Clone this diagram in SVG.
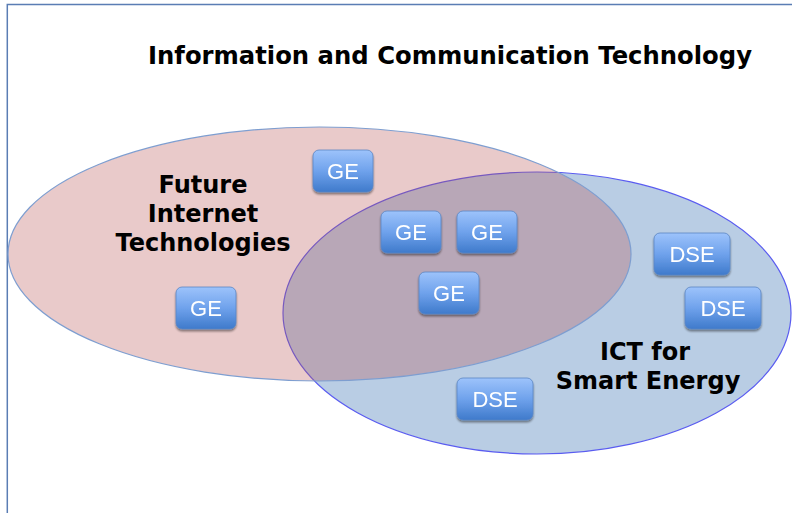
<svg xmlns="http://www.w3.org/2000/svg" width="792" height="513" viewBox="0 0 792 513">
  <defs>
    <linearGradient id="btnFill" x1="0" y1="0" x2="0" y2="1">
      <stop offset="0" stop-color="#9DC3FB"/>
      <stop offset="0.5" stop-color="#6FA2EC"/>
      <stop offset="1" stop-color="#3F7ACB"/>
    </linearGradient>
    <filter id="btnShadow" x="-10%" y="-10%" width="120%" height="130%">
      <feGaussianBlur in="SourceAlpha" stdDeviation="1"/>
      <feOffset dy="1.5"/>
      <feComponentTransfer><feFuncA type="linear" slope="0.45"/></feComponentTransfer>
      <feMerge><feMergeNode/><feMergeNode in="SourceGraphic"/></feMerge>
    </filter>
  </defs>
  <style>
    .frame { fill: none; stroke: #5A7DB4; stroke-width: 1.5; }
    .title { font-family: "DejaVu Sans", "Liberation Sans", sans-serif; font-weight: bold; font-size: 24px; fill: #000; }
    .setlabel { font-family: "DejaVu Sans", "Liberation Sans", sans-serif; font-weight: bold; font-size: 24px; fill: #000; text-anchor: middle; }
    .box rect { fill: url(#btnFill); stroke: #5C86C4; stroke-width: 0.8; }
    .box text { font-family: "Liberation Sans", Arial, sans-serif; font-size: 22px; fill: #fff; text-anchor: middle; }
    .box { filter: url(#btnShadow); }
  </style>

  <rect width="792" height="513" fill="#ffffff"/>

  <!-- page frame: top and left rule -->
  <path class="frame" d="M7.3 513 V4.5 H792"/>

  <!-- title -->
  <text class="title" x="148" y="64" textLength="604" lengthAdjust="spacingAndGlyphs">Information and Communication Technology</text>

  <!-- sets -->
  <g id="set-ict-energy">
    <ellipse cx="537" cy="313" rx="254" ry="141" fill="#B9CDE4" stroke="#5A5CF0" stroke-width="1.2"/>
  </g>
  <g id="set-future-internet">
    <ellipse cx="319.5" cy="254" rx="311.5" ry="127" fill="#B95353" fill-opacity="0.31" stroke="#7E9ED0" stroke-width="1.2"/>
  </g>

  <g id="label-future-internet">
    <text class="setlabel" x="203" y="193">Future</text>
    <text class="setlabel" x="203" y="222">Internet</text>
    <text class="setlabel" x="203" y="251">Technologies</text>
  </g>
  <g id="label-ict-energy">
    <text class="setlabel" x="645" y="360">ICT for</text>
    <text class="setlabel" x="648" y="389">Smart Energy</text>
  </g>

  <!-- generic enablers -->
  <g id="ge-1" class="box"><rect x="313" y="150" width="60" height="42" rx="6"/><text x="343" y="179">GE</text></g>
  <g id="ge-2" class="box"><rect x="381" y="211" width="60" height="42" rx="6"/><text x="411" y="240">GE</text></g>
  <g id="ge-3" class="box"><rect x="457" y="211" width="60" height="42" rx="6"/><text x="487" y="240">GE</text></g>
  <g id="ge-4" class="box"><rect x="419" y="272" width="60" height="42" rx="6"/><text x="449" y="301">GE</text></g>
  <g id="ge-5" class="box"><rect x="176" y="287" width="60" height="42" rx="6"/><text x="206" y="316">GE</text></g>

  <!-- domain specific enablers -->
  <g id="dse-1" class="box"><rect x="654" y="233" width="76" height="42" rx="6"/><text x="692" y="262">DSE</text></g>
  <g id="dse-2" class="box"><rect x="685" y="287" width="76" height="42" rx="6"/><text x="723" y="316">DSE</text></g>
  <g id="dse-3" class="box"><rect x="457" y="378" width="76" height="42" rx="6"/><text x="495" y="407">DSE</text></g>

  <!-- no connectors in this diagram -->
  <g id="connectors"/>
</svg>
